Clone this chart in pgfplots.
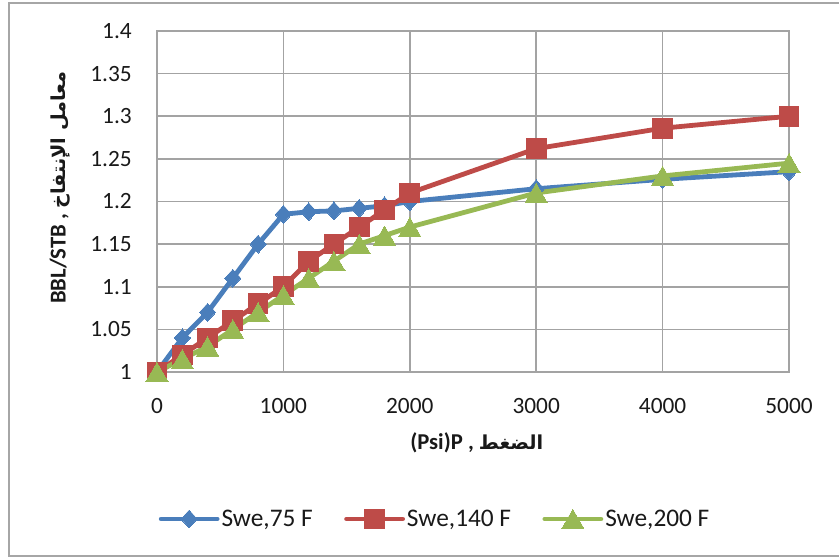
\documentclass[border=0pt]{standalone}
\usepackage{fontspec}
\setmainfont{Carlito}
\newfontfamily\arabicfont[Script=Arabic, Scale=0.85]{DejaVu Sans}
\TeXXeTstate=1
\usepackage{pgfplots}
\pgfplotsset{compat=1.18}

\definecolor{sblue}{HTML}{4A7EBB}
\definecolor{sred}{HTML}{BE4B48}
\definecolor{sgreen}{HTML}{98B954}
\definecolor{gridgray}{HTML}{A3A3A3}
\definecolor{framegray}{HTML}{A6A6A6}

\begin{document}
\begin{tikzpicture}
% page and outer chart frame
\useasboundingbox (-117.75pt,-139.5pt) rectangle (511.5pt,279pt);
\draw[framegray, line width=2pt] (511.5pt,276.75pt) -- (-111pt,276.75pt) -- (-111pt,-138pt) -- (511.5pt,-138pt);

\begin{axis}[
  at={(0,0)}, anchor=south west,
  scale only axis, width=474pt, height=255.75pt,
  xmin=0, xmax=5000, ymin=1, ymax=1.4,
  xtick={0,1000,2000,3000,4000,5000},
  ytick={1,1.05,1.1,1.15,1.2,1.25,1.3,1.35,1.4},
  grid=major,
  major grid style={gridgray, line width=1.3pt},
  axis line style={gridgray, line width=1.3pt},
  major tick length=0pt,
  /pgf/number format/assume math mode=true,
  /pgf/number format/1000 sep={},
  tick label style={font=\fontsize{17.5}{20}\selectfont, text=black!90},
  yticklabel style={inner sep=0pt, xshift=-18.75pt},
  xticklabel style={inner sep=0pt, yshift=-19.5pt},
  clip=false,
  xlabel={\bfseries (Psi)P , {\arabicfont\beginR الضغط\endR}},
  xlabel style={at={(axis description cs:0.506,-0.208)}, anchor=center, font=\fontsize{17}{20}\selectfont, text=black!90},
  ylabel={\bfseries BBL/STB , {\arabicfont\beginR معامل الإنتفاخ\endR}},
  ylabel style={at={(axis description cs:-0.1535,0.54)}, anchor=center, font=\fontsize{17}{20}\selectfont, text=black!90},
  legend columns=3,
  legend style={at={(axis description cs:0.44,-0.431)}, anchor=center, draw=none, fill=none,
    font=\fontsize{19}{22}\selectfont, text=black!90,
    inner sep=0pt,
    nodes={inner sep=1.5pt},
    /tikz/every even column/.append style={column sep=22pt}},
  legend image code/.code={\draw[mark repeat=2, mark phase=2, #1] plot coordinates {(0pt,0pt)(21pt,0pt)(42pt,0pt)};},
  every axis plot/.append style={line width=3.6pt, line join=round, line cap=round},
]

% Swe, 75 F
\addplot[sblue, mark=diamond*, mark size=6.7pt, mark options={solid, line width=0pt, fill=sblue, xscale=1.2}]
coordinates {
(0,1.000) (200,1.040) (400,1.070) (600,1.110) (800,1.150) (1000,1.185)
(1200,1.188) (1400,1.189) (1600,1.192) (1800,1.195) (2000,1.200)
(3000,1.215) (4000,1.226) (5000,1.235)
};
\addlegendentry{Swe,75 F}

% Swe, 140 F
\addplot[sred, mark=square*, mark size=7.4pt, mark options={solid, line width=0pt, fill=sred}]
coordinates {
(0,1.000) (200,1.020) (400,1.040) (600,1.060) (800,1.080) (1000,1.100)
(1200,1.130) (1400,1.150) (1600,1.170) (1800,1.190) (2000,1.210)
(3000,1.262) (4000,1.286) (5000,1.300)
};
\addlegendentry{Swe,140 F}

% Swe, 200 F (triangles shifted so their box is centred on the point)
\addplot[sgreen, mark=triangle*, mark size=9.6pt, mark options={solid, line width=0pt, fill=sgreen, yshift=-2.4pt}]
coordinates {
(0,1.000) (200,1.015) (400,1.030) (600,1.050) (800,1.070) (1000,1.090)
(1200,1.110) (1400,1.130) (1600,1.150) (1800,1.160) (2000,1.170)
(3000,1.210) (4000,1.230) (5000,1.245)
};
\addlegendentry{Swe,200 F}

\end{axis}
\end{tikzpicture}
\end{document}
